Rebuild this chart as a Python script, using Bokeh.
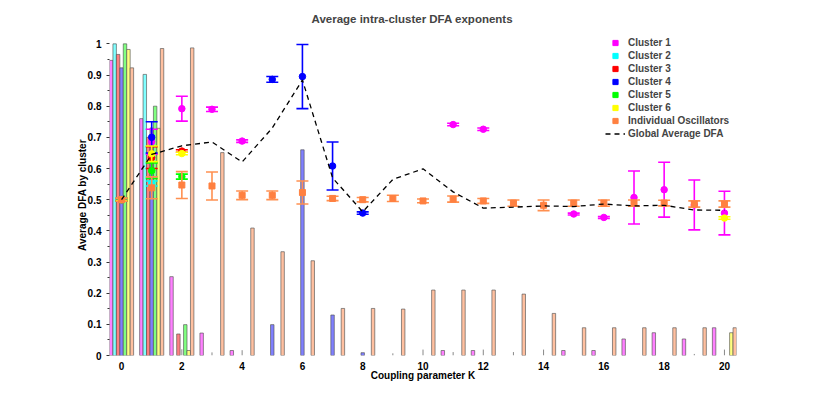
from bokeh.plotting import figure
from bokeh.models import Range1d, Legend, LegendItem, FixedTicker, NumeralTickFormatter
from bokeh.embed import file_html
from bokeh.resources import INLINE

nan = float("nan")

K = list(range(21))
x_ticks = [0, 2, 4, 6, 8, 10, 12, 14, 16, 18, 20]
y_ticks = [0, 0.1, 0.2, 0.3, 0.4, 0.5, 0.6, 0.7, 0.8, 0.9, 1.0]
y_minor = [0.05, 0.15, 0.25, 0.35, 0.45, 0.55, 0.65, 0.75, 0.85, 0.95]

series_names = ["Cluster 1", "Cluster 2", "Cluster 3", "Cluster 4", "Cluster 5", "Cluster 6",
                "Individual Oscillators"]

# bar heights per K (0..20)
bar_c1 = [0.947, 0.76, 0.253, 0.072, 0.016, 0, 0, 0, 0, 0, 0, 0.016, 0.016, 0, 0, 0.016, 0.016, 0.053, 0.073, 0.053, 0.089]
bar_c2 = [1.0, 0.902, 0, 0, 0, 0, 0, 0, 0, 0, 0, 0, 0, 0, 0, 0, 0, 0, 0, 0, 0]
bar_c3 = [0.966, 0.70, 0.069, 0, 0, 0, 0, 0, 0, 0, 0, 0, 0, 0, 0, 0, 0, 0, 0, 0, 0]
bar_c4 = [0.923, 0.73, 0, 0, 0, 0.099, 0.66, 0.13, 0.009, 0, 0, 0, 0, 0, 0, 0, 0, 0, 0, 0, 0]
bar_c5 = [1.0, 0.80, 0.099, 0, 0, 0, 0, 0, 0, 0, 0, 0, 0, 0, 0, 0, 0, 0, 0, 0, 0]
bar_c6 = [0.982, 0.729, 0.016, 0, 0, 0, 0, 0, 0, 0, 0, 0, 0, 0, 0, 0, 0, 0, 0, 0, 0.073]
bar_ind = [0.923, 0.985, 0.987, 0.651, 0.409, 0.333, 0.304, 0.151, 0.151, 0.149, 0.21, 0.21, 0.21, 0.197, 0.135, 0.089, 0.089, 0.089, 0.089, 0.089, 0.089]
bar_spread = [0, 0, 0.02, 0.01, 0.017, 0, 0, 0, 0, 0.007, 0.019, 0.011, 0.019, 0.011, 0.019, 0, 0, 0, 0, 0.005, 0.019]

# mean DFA per cluster per K, and error
dfa_c1 = [0.5, 0.686, 0.792, 0.79, 0.688, nan, nan, nan, nan, nan, nan, 0.741, 0.726, nan, nan, 0.454, 0.443, 0.507, 0.532, 0.483, 0.457]
err_c1 = [0.004, 0.04, 0.04, 0.007, 0.004, nan, nan, nan, nan, nan, nan, 0.004, 0.004, nan, nan, 0.003, 0.003, 0.085, 0.088, 0.08, 0.07]
dfa_c2 = [0.5, 0.552, nan, nan, nan, nan, nan, nan, nan, nan, nan, nan, nan, nan, nan, nan, nan, nan, nan, nan, nan]
err_c2 = [0.004, 0.008, nan, nan, nan, nan, nan, nan, nan, nan, nan, nan, nan, nan, nan, nan, nan, nan, nan, nan, nan]
dfa_c3 = [0.5, 0.635, 0.656, nan, nan, nan, nan, nan, nan, nan, nan, nan, nan, nan, nan, nan, nan, nan, nan, nan, nan]
err_c3 = [0.004, 0.035, 0.004, nan, nan, nan, nan, nan, nan, nan, nan, nan, nan, nan, nan, nan, nan, nan, nan, nan, nan]
dfa_c4 = [0.5, 0.70, nan, nan, nan, 0.886, 0.895, 0.608, 0.457, nan, nan, nan, nan, nan, nan, nan, nan, nan, nan, nan, nan]
err_c4 = [0.004, 0.05, nan, nan, nan, 0.009, 0.103, 0.077, 0.004, nan, nan, nan, nan, nan, nan, nan, nan, nan, nan, nan, nan]
dfa_c5 = [0.5, 0.593, 0.574, nan, nan, nan, nan, nan, nan, nan, nan, nan, nan, nan, nan, nan, nan, nan, nan, nan, nan]
err_c5 = [0.004, 0.025, 0.008, nan, nan, nan, nan, nan, nan, nan, nan, nan, nan, nan, nan, nan, nan, nan, nan, nan, nan]
dfa_c6 = [0.5, 0.647, 0.648, nan, nan, nan, nan, nan, nan, nan, nan, nan, nan, nan, nan, nan, nan, nan, nan, nan, 0.441]
err_c6 = [0.004, 0.025, 0.004, nan, nan, nan, nan, nan, nan, nan, nan, nan, nan, nan, nan, nan, nan, nan, nan, nan, 0.004]
dfa_ind = [0.5, 0.538, 0.547, 0.544, 0.514, 0.514, 0.523, 0.504, 0.50, 0.504, 0.496, 0.502, 0.496, 0.489, 0.482, 0.489, 0.489, 0.489, 0.489, 0.486, 0.486]
err_ind = [0.005, 0.035, 0.043, 0.045, 0.014, 0.014, 0.037, 0.007, 0.007, 0.01, 0.006, 0.01, 0.008, 0.01, 0.017, 0.01, 0.01, 0.01, 0.009, 0.01, 0.01]

global_dfa = [0.5, 0.645, 0.673, 0.685, 0.621, 0.73, 0.884, 0.57, 0.461, 0.565, 0.599, 0.525, 0.473, 0.476, 0.48, 0.478, 0.486, 0.48, 0.482, 0.467, 0.466]

marker_colors = ["#ff00ff", "#00ffff", "#ff0000", "#0000ff", "#00ff00", "#ffff00", "#ff8040"]
bar_colors = ["#ff80ff", "#80ffff", "#ff8080", "#8080ff", "#80ff80", "#ffff80", "#ffc0a0"]

bars = [bar_c1, bar_c2, bar_c3, bar_c4, bar_c5, bar_c6, bar_ind]
means = [dfa_c1, dfa_c2, dfa_c3, dfa_c4, dfa_c5, dfa_c6, dfa_ind]
errs = [err_c1, err_c2, err_c3, err_c4, err_c5, err_c6, err_ind]

FONT = "Liberation Sans"

p = figure(frame_width=627, frame_height=321,
           x_range=Range1d(-0.4, 20.4), y_range=Range1d(0, 1.03),
           output_backend="svg", toolbar_location=None,
           min_border_left=109, min_border_top=34, min_border_right=64, min_border_bottom=30,
           title="Average intra-cluster DFA exponents")
p.title.text_font = FONT
p.title.text_font_style = "bold"
p.title.text_font_size = "11.5px"
p.title.align = "left"
p.title.offset = 202
p.title.standoff = 20
p.outline_line_color = None
p.xgrid.grid_line_color = None
p.ygrid.grid_line_color = None
p.background_fill_color = "white"

# bars
bw = 0.8 / 7
for i, (vals, col) in enumerate(zip(bars, bar_colors)):
    xs = [k + (i - 3) * bw for k, v in zip(K, vals) if v > 0]
    ts = [v for v in vals if v > 0]
    p.vbar(x=xs, top=ts, width=bw, bottom=0, fill_color=col, line_color="#505050",
           line_width=0.8, line_alpha=0.8)

sk = [k for k, v in zip(K, bar_spread) if v > 0]
sv = [v for v in bar_spread if v > 0]
p.segment(x0=sk, y0=[0] * len(sk), x1=sk, y1=sv, line_color="#888888", line_width=1)

# error bars and markers
for i, (m, e, col) in enumerate(zip(means, errs, marker_colors)):
    ks = [k for k, v in zip(K, m) if v == v]
    ms = [v for v in m if v == v]
    es = [v for v in e if v == v]
    lo = [a - b for a, b in zip(ms, es)]
    hi = [a + b for a, b in zip(ms, es)]
    ecol = "#ff9050" if i == 6 else col
    p.segment(x0=ks, y0=lo, x1=ks, y1=hi, line_color=ecol, line_width=1.6)
    p.scatter(x=ks + ks, y=lo + hi, marker="dash", size=12, line_color=ecol, line_width=1.6)
    if i == 6:
        p.scatter(x=ks, y=ms, marker="square", size=6, fill_color=col, line_color=col)
    else:
        p.scatter(x=ks, y=ms, marker="circle", size=6.5, fill_color=col, line_color=col)

gl = p.line(x=K, y=global_dfa, line_color="black", line_width=1.3, line_dash="5 4")

# legend (proxy renderers with a single undrawn point)
items = []
for name, col in zip(series_names, marker_colors):
    r = p.scatter(x=[nan], y=[nan], marker="square", size=5, fill_color=col, line_color=col)
    items.append(LegendItem(label=name, renderers=[r]))
items.append(LegendItem(label="Global Average DFA", renderers=[gl]))
legend = Legend(items=items, location=(496, 215), padding=0, spacing=0,
                glyph_width=20, glyph_height=13, label_height=13, label_standoff=3,
                border_line_color=None, background_fill_alpha=0,
                label_text_font=FONT, label_text_font_style="bold", label_text_font_size="10px")
p.add_layout(legend)

# axes
p.xaxis.ticker = FixedTicker(ticks=x_ticks)
p.xaxis.axis_line_color = None
p.xaxis.major_tick_line_color = None
p.xaxis.minor_tick_line_color = None
p.xaxis.major_label_standoff = 0
p.xaxis.axis_label = "Coupling parameter K"
p.xaxis.axis_label_standoff = -3

p.yaxis.ticker = FixedTicker(ticks=y_ticks, minor_ticks=y_minor)
p.yaxis.formatter = NumeralTickFormatter(format="0.[0]")
p.yaxis.axis_line_color = None
p.yaxis.major_tick_out = 3
p.yaxis.major_tick_in = 0
p.yaxis.minor_tick_out = 2
p.yaxis.minor_tick_in = 0
p.yaxis.major_tick_line_color = "#333333"
p.yaxis.minor_tick_line_color = "#333333"
p.yaxis.major_label_standoff = 5
p.yaxis.axis_label = "Average DFA by cluster"
p.yaxis.axis_label_standoff = -3

for ax in (p.xaxis, p.yaxis):
    ax.major_label_text_font = FONT
    ax.major_label_text_font_style = "bold"
    ax.major_label_text_font_size = "10px"
    ax.major_label_text_color = "black"
    ax.axis_label_text_font = FONT
    ax.axis_label_text_font_style = "bold"
    ax.axis_label_text_font_size = "10px"
    ax.axis_label_text_color = "black"

open("out.html", "w").write(file_html(p, INLINE))
